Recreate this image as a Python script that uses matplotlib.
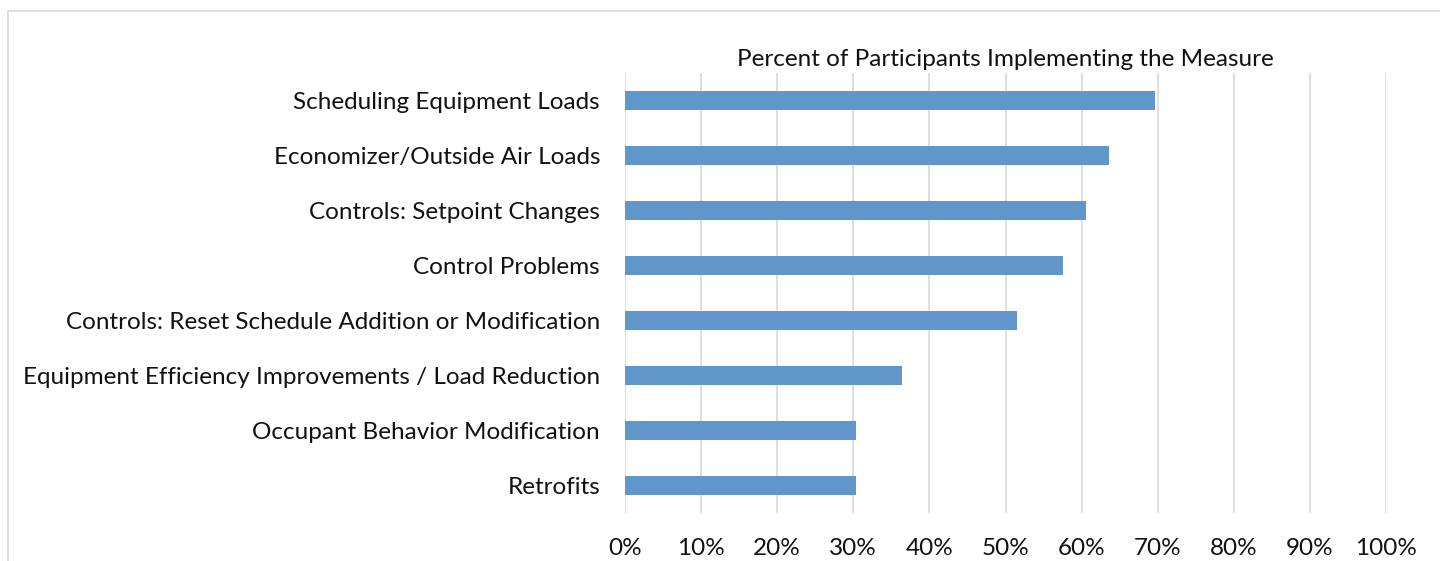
import matplotlib.pyplot as plt
import matplotlib.ticker as mticker
from matplotlib.patches import Rectangle

categories = [
    "Scheduling Equipment Loads",
    "Economizer/Outside Air Loads",
    "Controls: Setpoint Changes",
    "Control Problems",
    "Controls: Reset Schedule Addition or Modification",
    "Equipment Efficiency Improvements / Load Reduction",
    "Occupant Behavior Modification",
    "Retrofits",
]
values = [0.697, 0.636, 0.606, 0.576, 0.515, 0.364, 0.303, 0.303]
xticks = [0, 0.1, 0.2, 0.3, 0.4, 0.5, 0.6, 0.7, 0.8, 0.9, 1.0]

plt.rcParams["font.family"] = ["Lato", "DejaVu Sans"]

fig = plt.figure(figsize=(14.4, 5.61), dpi=100)
ax = fig.add_axes([625/1440, 1 - 513/561, (1386 - 625)/1440, 440/561])

# outer chart border (partly off-canvas, like the source crop)
fig.patches.append(Rectangle((8/1440, -0.1), 1.2, 1 - 11/561 + 0.1,
                             transform=fig.transFigure, fill=False,
                             edgecolor="#d9d9d9", linewidth=1.2))

y = list(range(len(categories)))
ax.barh(y, values, height=0.35, color="#6096c9", zorder=3)
ax.set_ylim(len(categories) - 0.5, -0.5)
ax.set_xlim(0, 1.0)
ax.set_yticks(y)
ax.set_yticklabels(categories, fontsize=17.5, color="#111111")
ax.set_xticks(xticks)
ax.xaxis.set_major_formatter(mticker.PercentFormatter(1.0, decimals=0))
ax.tick_params(axis="x", labelsize=17.5, length=0, pad=18, colors="#111111")
ax.tick_params(axis="y", length=0, pad=18)
ax.grid(axis="x", color="#d9d9d9", linewidth=1.2, zorder=0)
for s in ax.spines.values():
    s.set_visible(False)
ax.set_title("Percent of Participants Implementing the Measure",
             fontsize=17.5, color="#111111", pad=5)

fig.savefig("out.png", dpi=100)
